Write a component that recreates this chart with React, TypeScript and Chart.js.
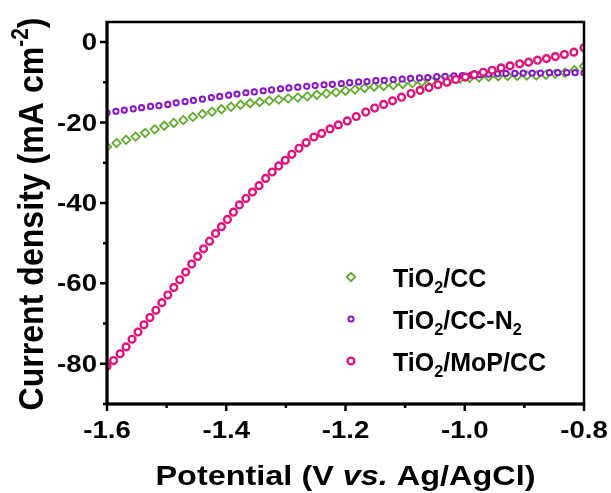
import React, { useEffect, useRef } from "react";
import { Chart, registerables } from "chart.js";

Chart.register(...registerables);

// Potential (V vs. Ag/AgCl) for TiO2/CC
const potential = [
  -1.6, -1.584, -1.568, -1.552, -1.536, -1.52, -1.504, -1.488, -1.472, -1.456,
  -1.44, -1.424, -1.408, -1.392, -1.376, -1.36, -1.344, -1.328, -1.312, -1.296,
  -1.28, -1.264, -1.248, -1.232, -1.216, -1.2, -1.184, -1.168, -1.152, -1.136,
  -1.12, -1.104, -1.088, -1.072, -1.056, -1.04, -1.024, -1.008, -0.992, -0.976,
  -0.96, -0.944, -0.928, -0.912, -0.896, -0.88, -0.864, -0.848, -0.832, -0.816,
  -0.8,
];

// Current density (mA cm-2)
const tio2CC = [
  -26.0, -25.1, -24.3, -23.5, -22.6, -21.7, -20.8, -20.1, -19.4, -18.6,
  -17.9, -17.3, -16.7, -16.1, -15.6, -15.2, -14.9, -14.6, -14.3, -14.0,
  -13.8, -13.5, -13.1, -12.8, -12.5, -12.1, -11.8, -11.4, -11.1, -10.9,
  -10.7, -10.4, -10.2, -9.9, -9.7, -9.5, -9.3, -9.1, -8.9, -8.8,
  -8.6, -8.5, -8.4, -8.4, -8.3, -8.3, -8.1, -7.9, -7.6, -7.0,
  -6.0,
];

// Potential (V vs. Ag/AgCl) for TiO2/CC-N2
const potentialN2 = [
  -1.6, -1.585, -1.571, -1.556, -1.542, -1.527, -1.513, -1.498, -1.484, -1.469,
  -1.455, -1.44, -1.425, -1.411, -1.396, -1.382, -1.367, -1.353, -1.338, -1.324,
  -1.309, -1.295, -1.28, -1.265, -1.251, -1.236, -1.222, -1.207, -1.193, -1.178,
  -1.164, -1.149, -1.135, -1.12, -1.105, -1.091, -1.076, -1.062, -1.047, -1.033,
  -1.018, -1.004, -0.989, -0.975, -0.96, -0.945, -0.931, -0.916, -0.902, -0.887,
  -0.873, -0.858, -0.844, -0.829, -0.815, -0.8,
];

const tio2CCN2 = [
  -17.6, -17.2, -16.9, -16.6, -16.3, -16.0, -15.8, -15.5, -15.1, -14.8,
  -14.5, -14.2, -13.8, -13.5, -13.2, -12.9, -12.6, -12.4, -12.1, -11.9,
  -11.6, -11.4, -11.2, -11.0, -10.8, -10.6, -10.5, -10.3, -10.1, -9.9,
  -9.8, -9.6, -9.5, -9.3, -9.2, -9.0, -8.9, -8.8, -8.6, -8.5,
  -8.4, -8.3, -8.2, -8.1, -8.0, -7.9, -7.8, -7.8, -7.7, -7.7,
  -7.7, -7.6, -7.6, -7.6, -7.6, -7.6,
];

// Potential (V vs. Ag/AgCl) for TiO2/MoP/CC (denser where the curve is steep)
const potentialMoP = [
  -1.6, -1.589, -1.578, -1.568, -1.558, -1.548, -1.538, -1.528, -1.518, -1.508,
  -1.498, -1.488, -1.478, -1.468, -1.458, -1.448, -1.438, -1.428, -1.418, -1.408,
  -1.398, -1.388, -1.378, -1.367, -1.356, -1.345, -1.334, -1.323, -1.312, -1.301,
  -1.29, -1.278, -1.266, -1.253, -1.24, -1.226, -1.212, -1.197, -1.182, -1.166,
  -1.151, -1.136, -1.121, -1.106, -1.09, -1.075, -1.06, -1.045, -1.03, -1.015,
  -0.999, -0.984, -0.969, -0.954, -0.939, -0.924, -0.908, -0.893, -0.878, -0.863,
  -0.848, -0.833, -0.817, -0.8,
];

const tio2MoPCC = [
  -80.6, -79.2, -77.5, -75.8, -73.9, -72.1, -70.3, -68.5, -66.7, -64.8,
  -62.9, -61.0, -59.1, -57.2, -55.2, -53.3, -51.4, -49.5, -47.6, -45.9,
  -44.1, -42.3, -40.5, -38.9, -37.3, -35.7, -33.9, -32.3, -30.8, -29.4,
  -27.9, -26.4, -25.0, -23.6, -22.7, -21.6, -20.6, -19.6, -18.5, -17.4,
  -16.4, -15.5, -14.6, -13.7, -12.8, -12.0, -11.3, -10.6, -10.0, -9.3,
  -8.7, -8.1, -7.5, -7.0, -6.4, -5.9, -5.4, -5.0, -4.5, -4.1,
  -3.6, -3.1, -2.5, -1.4,
];

const xMajorTicks = [-1.6, -1.4, -1.2, -1.0, -0.8];
const xTickLabels = ["-1.6", "-1.4", "-1.2", "-1.0", "-0.8"];
const xMinorTicks = [-1.5, -1.3, -1.1, -0.9];
const yMajorTicks = [0, -20, -40, -60, -80];
const yTickLabels = ["0", "-20", "-40", "-60", "-80"];
const yMinorTicks = [-10, -30, -50, -70, -90];

type Seg = { t: string; s?: "i" | "sub" | "sup" };

const legendLabels: Seg[][] = [
  [{ t: "TiO" }, { t: "2", s: "sub" }, { t: "/CC" }],
  [{ t: "TiO" }, { t: "2", s: "sub" }, { t: "/CC-N" }, { t: "2", s: "sub" }],
  [{ t: "TiO" }, { t: "2", s: "sub" }, { t: "/MoP/CC" }],
];
const xTitle: Seg[] = [{ t: "Potential (V " }, { t: "vs.", s: "i" }, { t: " Ag/AgCl)" }];
const yTitle: Seg[] = [{ t: "Current density (mA cm" }, { t: "-2", s: "sup" }, { t: ")" }];

const GREEN = "#5fab2b";
const PURPLE = "#8a12cf";
const PINK = "#e1137c";
const FONT = "'Liberation Sans', Arial, sans-serif";

function segFont(size: number, seg: Seg) {
  const small = seg.s === "sub" || seg.s === "sup";
  const px = small ? size * 0.65 : size;
  return `${seg.s === "i" ? "italic " : ""}bold ${px}px ${FONT}`;
}

function measureRich(ctx: CanvasRenderingContext2D, segs: Seg[], size: number) {
  let w = 0;
  for (const seg of segs) {
    ctx.font = segFont(size, seg);
    w += ctx.measureText(seg.t).width;
  }
  return w;
}

function drawRich(
  ctx: CanvasRenderingContext2D,
  segs: Seg[],
  size: number,
  align: "left" | "center",
) {
  const w = measureRich(ctx, segs, size);
  let cx = align === "center" ? -w / 2 : 0;
  ctx.textBaseline = "alphabetic";
  ctx.textAlign = "left";
  for (const seg of segs) {
    ctx.font = segFont(size, seg);
    const dy = seg.s === "sub" ? size * 0.27 : seg.s === "sup" ? -size * 0.42 : 0;
    ctx.fillText(seg.t, cx, dy);
    cx += ctx.measureText(seg.t).width;
  }
}

function drawMarker(ctx: CanvasRenderingContext2D, kind: string, x: number, y: number, r: number, color: string, bw: number) {
  ctx.save();
  ctx.beginPath();
  if (kind === "diamond") {
    ctx.moveTo(x - r, y);
    ctx.lineTo(x, y - r);
    ctx.lineTo(x + r, y);
    ctx.lineTo(x, y + r);
    ctx.closePath();
  } else {
    ctx.arc(x, y, r, 0, Math.PI * 2);
  }
  ctx.fillStyle = "#ffffff";
  ctx.fill();
  ctx.lineWidth = bw;
  ctx.strokeStyle = color;
  ctx.stroke();
  ctx.restore();
}

const decorPlugin = {
  id: "decor",
  afterDraw(chart: any) {
    const ctx: CanvasRenderingContext2D = chart.ctx;
    const { left, right, top, bottom } = chart.chartArea;
    const xs = chart.scales.x;
    const ys = chart.scales.y;
    ctx.save();
    ctx.strokeStyle = "#000";
    ctx.fillStyle = "#000";
    // frame
    ctx.lineWidth = 2.5;
    ctx.strokeRect(left, top, right - left, bottom - top);
    ctx.lineWidth = 3;
    ctx.beginPath();
    ctx.moveTo(left, top - 1);
    ctx.lineTo(left, bottom + 1);
    ctx.moveTo(left - 1, bottom);
    ctx.lineTo(right + 1, bottom);
    ctx.stroke();
    // ticks
    ctx.lineWidth = 2.5;
    ctx.beginPath();
    for (const v of xMajorTicks) {
      const px = xs.getPixelForValue(v);
      ctx.moveTo(px, bottom);
      ctx.lineTo(px, bottom + 7);
    }
    for (const v of xMinorTicks) {
      const px = xs.getPixelForValue(v);
      ctx.moveTo(px, bottom);
      ctx.lineTo(px, bottom + 4);
    }
    for (const v of yMajorTicks) {
      const py = ys.getPixelForValue(v);
      ctx.moveTo(left, py);
      ctx.lineTo(left - 7, py);
    }
    for (const v of yMinorTicks) {
      const py = ys.getPixelForValue(v);
      ctx.moveTo(left, py);
      ctx.lineTo(left - 4, py);
    }
    ctx.stroke();
    // tick labels
    const tickSize = 23;
    const tickScale = 1.2;
    ctx.font = `bold ${tickSize}px ${FONT}`;
    ctx.textBaseline = "alphabetic";
    xMajorTicks.forEach((v, i) => {
      const px = xs.getPixelForValue(v);
      ctx.save();
      ctx.translate(px, bottom + 34);
      ctx.scale(tickScale, 1);
      ctx.textAlign = "center";
      ctx.fillText(xTickLabels[i], 0, 0);
      ctx.restore();
    });
    yMajorTicks.forEach((v, i) => {
      const py = ys.getPixelForValue(v);
      ctx.save();
      ctx.translate(left - 10, py + 8);
      ctx.scale(tickScale, 1);
      ctx.textAlign = "right";
      ctx.fillText(yTickLabels[i], 0, 0);
      ctx.restore();
    });
    // x title
    ctx.save();
    ctx.translate((left + right) / 2, 485);
    {
      const w = measureRich(ctx, xTitle, 28);
      ctx.scale(380 / w, 1);
    }
    drawRich(ctx, xTitle, 28, "center");
    ctx.restore();
    // y title
    ctx.save();
    ctx.translate(43, (top + bottom) / 2 + 1);
    ctx.rotate(-Math.PI / 2);
    {
      const w = measureRich(ctx, yTitle, 31);
      ctx.scale(393 / w, 1.15);
    }
    drawRich(ctx, yTitle, 31, "center");
    ctx.restore();
    // legend
    const markers = [
      { kind: "diamond", color: GREEN, r: 4.2, bw: 1.8 },
      { kind: "circle", color: PURPLE, r: 2.6, bw: 2 },
      { kind: "circle", color: PINK, r: 3.4, bw: 2.4 },
    ];
    legendLabels.forEach((segs, i) => {
      const cy = 277 + i * 42;
      const m = markers[i];
      drawMarker(ctx, m.kind, 351, cy, m.r, m.color, m.bw);
      ctx.save();
      ctx.fillStyle = "#000";
      ctx.translate(393, cy + 9.5);
      drawRich(ctx, segs, 25, "left");
      ctx.restore();
    });
    ctx.restore();
  },
};

export default function App() {
  const canvasRef = useRef<HTMLCanvasElement | null>(null);

  useEffect(() => {
    document.body.style.margin = "0";
    const canvas = canvasRef.current;
    if (!canvas) return;
    const toPts = (xs: number[], ys: number[]) => xs.map((x, i) => ({ x, y: ys[i] }));
    const chart = new Chart(canvas, {
      type: "scatter",
      data: {
        datasets: [
          {
            label: "TiO2/MoP/CC",
            data: toPts(potentialMoP, tio2MoPCC),
            pointStyle: "circle",
            pointRadius: 3.4,
            pointBorderWidth: 2.4,
            borderColor: PINK,
            pointBorderColor: PINK,
            pointBackgroundColor: "#ffffff",
            backgroundColor: "#ffffff",
            showLine: false,
          },
          {
            label: "TiO2/CC-N2",
            data: toPts(potentialN2, tio2CCN2),
            pointStyle: "circle",
            pointRadius: 2.6,
            pointBorderWidth: 2,
            borderColor: PURPLE,
            pointBorderColor: PURPLE,
            pointBackgroundColor: "#ffffff",
            backgroundColor: "#ffffff",
            showLine: false,
          },
          {
            label: "TiO2/CC",
            data: toPts(potential, tio2CC),
            pointStyle: "rectRot",
            pointRadius: 4.2,
            pointBorderWidth: 1.8,
            borderColor: GREEN,
            pointBorderColor: GREEN,
            pointBackgroundColor: "#ffffff",
            backgroundColor: "#ffffff",
            showLine: false,
          },
        ],
      },
      options: {
        responsive: false,
        animation: false,
        devicePixelRatio: 1,
        layout: { padding: { top: 22, right: 27, left: 0, bottom: 0 } },
        plugins: {
          legend: { display: false },
          tooltip: { enabled: false },
          title: { display: false },
        },
        events: [],
        scales: {
          x: {
            type: "linear",
            min: -1.6,
            max: -0.8,
            grid: { display: false },
            border: { display: false },
            ticks: { display: false },
            afterFit: (s: any) => {
              s.height = 89;
            },
          },
          y: {
            type: "linear",
            min: -90,
            max: 5,
            grid: { display: false },
            border: { display: false },
            ticks: { display: false },
            afterFit: (s: any) => {
              s.width = 107;
            },
          },
        },
      },
      plugins: [decorPlugin],
    });
    return () => chart.destroy();
  }, []);

  return (
    <div style={{ position: "absolute", left: 0, top: 0, width: 611, height: 493, background: "#fff" }}>
      <canvas ref={canvasRef} width={611} height={493} />
    </div>
  );
}
